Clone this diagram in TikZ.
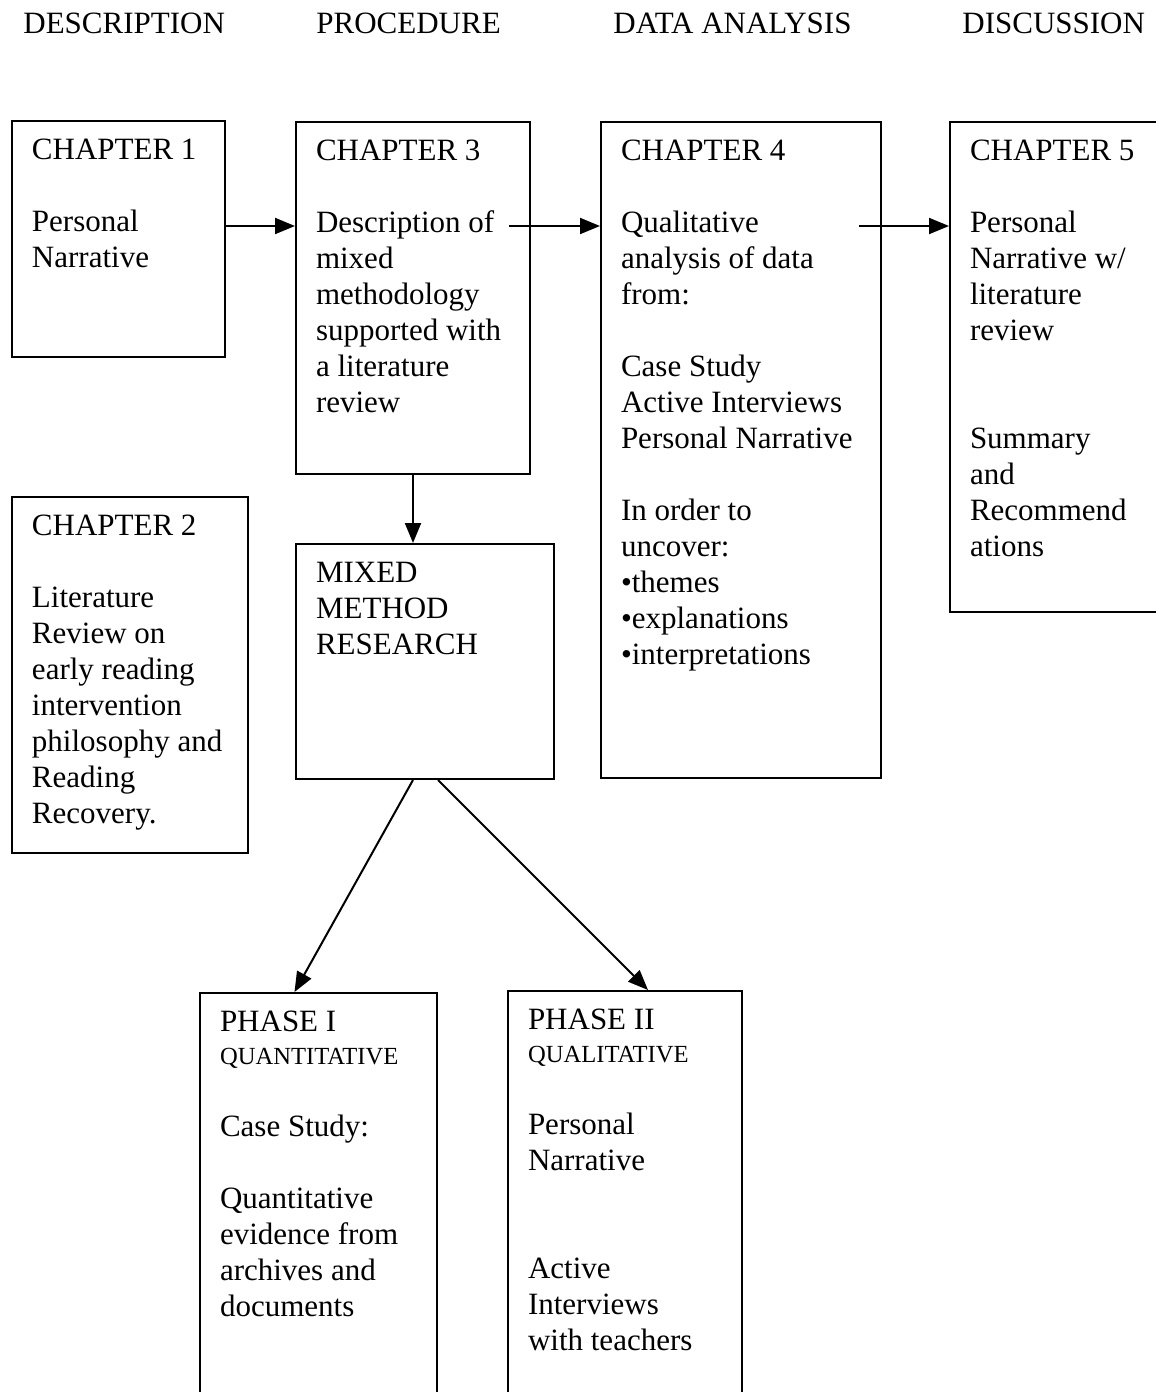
\documentclass[tikz,border=0pt]{standalone}
\usepackage{fontspec}
\setmainfont{Liberation Serif}
\usetikzlibrary{arrows.meta}
\hyphenpenalty=10000

\newcommand{\boxtext}[3]{\parbox[t][#2][t]{#1}{\raggedright #3}}
\newcommand{\phasetype}[1]{{\fontsize{12.3}{18}\selectfont #1}}

\begin{document}
\begin{tikzpicture}[x=0.5pt, y=-0.5pt,
                    every node/.style = {
                      font=\fontsize{15.5}{18}\selectfont, text=black
                    },
                    heading/.style = {
                      anchor=base west, inner sep=0pt
                    },
                    chapter/.style = {
                      draw, line width=1pt, anchor=north west,
                      inner xsep=10pt, inner ysep=9pt
                    },
                    link/.style = {
                      -{Triangle[length=10pt,width=8pt]}, line width=1pt
                    }]
    \useasboundingbox (0,0) rectangle (1156,1392);

    % column headings
    \node[heading] (hdesc) at (23,33) {DESCRIPTION};
    \node[heading] (hproc) at (316,33) {PROCEDURE};
    \node[heading] (hdata) at (613,33) {DATA ANALYSIS};
    \node[heading] (hdisc) at (962,33) {DISCUSSION};

    % chapters
    \node[chapter] (ch1) at (11,120)
      {\boxtext{86.5pt}{100pt}{CHAPTER 1\\[18pt]Personal\\Narrative}};
    \node[chapter] (ch3) at (295,121)
      {\boxtext{97pt}{158pt}{CHAPTER 3\\[18pt]Description of\\mixed\\methodology\\supported with\\a literature\\review}};
    \node[chapter] (ch4) at (600,121)
      {\boxtext{120pt}{310pt}{CHAPTER 4\\[18pt]Qualitative\\analysis of data\\from:\\[18pt]Case Study\\Active Interviews\\Personal Narrative\\[18pt]In order to\\uncover:\\•themes\\•explanations\\•interpretations}};
    \node[chapter] (ch5) at (949,121)
      {\boxtext{111pt}{227pt}{CHAPTER 5\\[18pt]Personal\\Narrative w/\\literature\\review\\[36pt]Summary\\and\\Recommend\\ations}};
    \node[chapter] (ch2) at (11,496)
      {\boxtext{98pt}{160pt}{CHAPTER 2\\[18pt]Literature\\Review on\\early reading\\intervention\\philosophy and\\Reading\\Recovery.}};

    % research design
    \node[chapter] (mixed) at (295,543)
      {\boxtext{109pt}{99.5pt}{MIXED\\METHOD\\RESEARCH}};
    \node[chapter] (phase1) at (199,992)
      {\boxtext{98.5pt}{260pt}{PHASE I\\[-1.5pt]\phasetype{QUANTITATIVE}\\[18pt]Case Study:\\[18pt]Quantitative\\evidence from\\archives and\\documents}};
    \node[chapter] (phase2) at (507,990)
      {\boxtext{97pt}{260pt}{PHASE II\\[-1.5pt]\phasetype{QUALITATIVE}\\[18pt]Personal\\Narrative\\[36pt]Active\\Interviews\\with teachers}};

    % connectors
    \coordinate (arrowrow) at (0,226);
    \draw[link] (ch1.east |- arrowrow) -- (ch3.west |- arrowrow);
    \draw[link] ([xshift=-11pt]ch3.east |- arrowrow) -- (ch4.west |- arrowrow);
    \draw[link] ([xshift=-11.5pt]ch4.east |- arrowrow) -- (ch5.west |- arrowrow);
    \draw[link] (ch3.south) -- (mixed.north -| ch3.south);
    \draw[link] ([xshift=-6pt]mixed.south) -- ([xshift=-12pt]phase1.north);
    \draw[link] ([xshift=6.5pt]mixed.south) -- ([xshift=11.5pt]phase2.north);
  \end{tikzpicture}
\end{document}
